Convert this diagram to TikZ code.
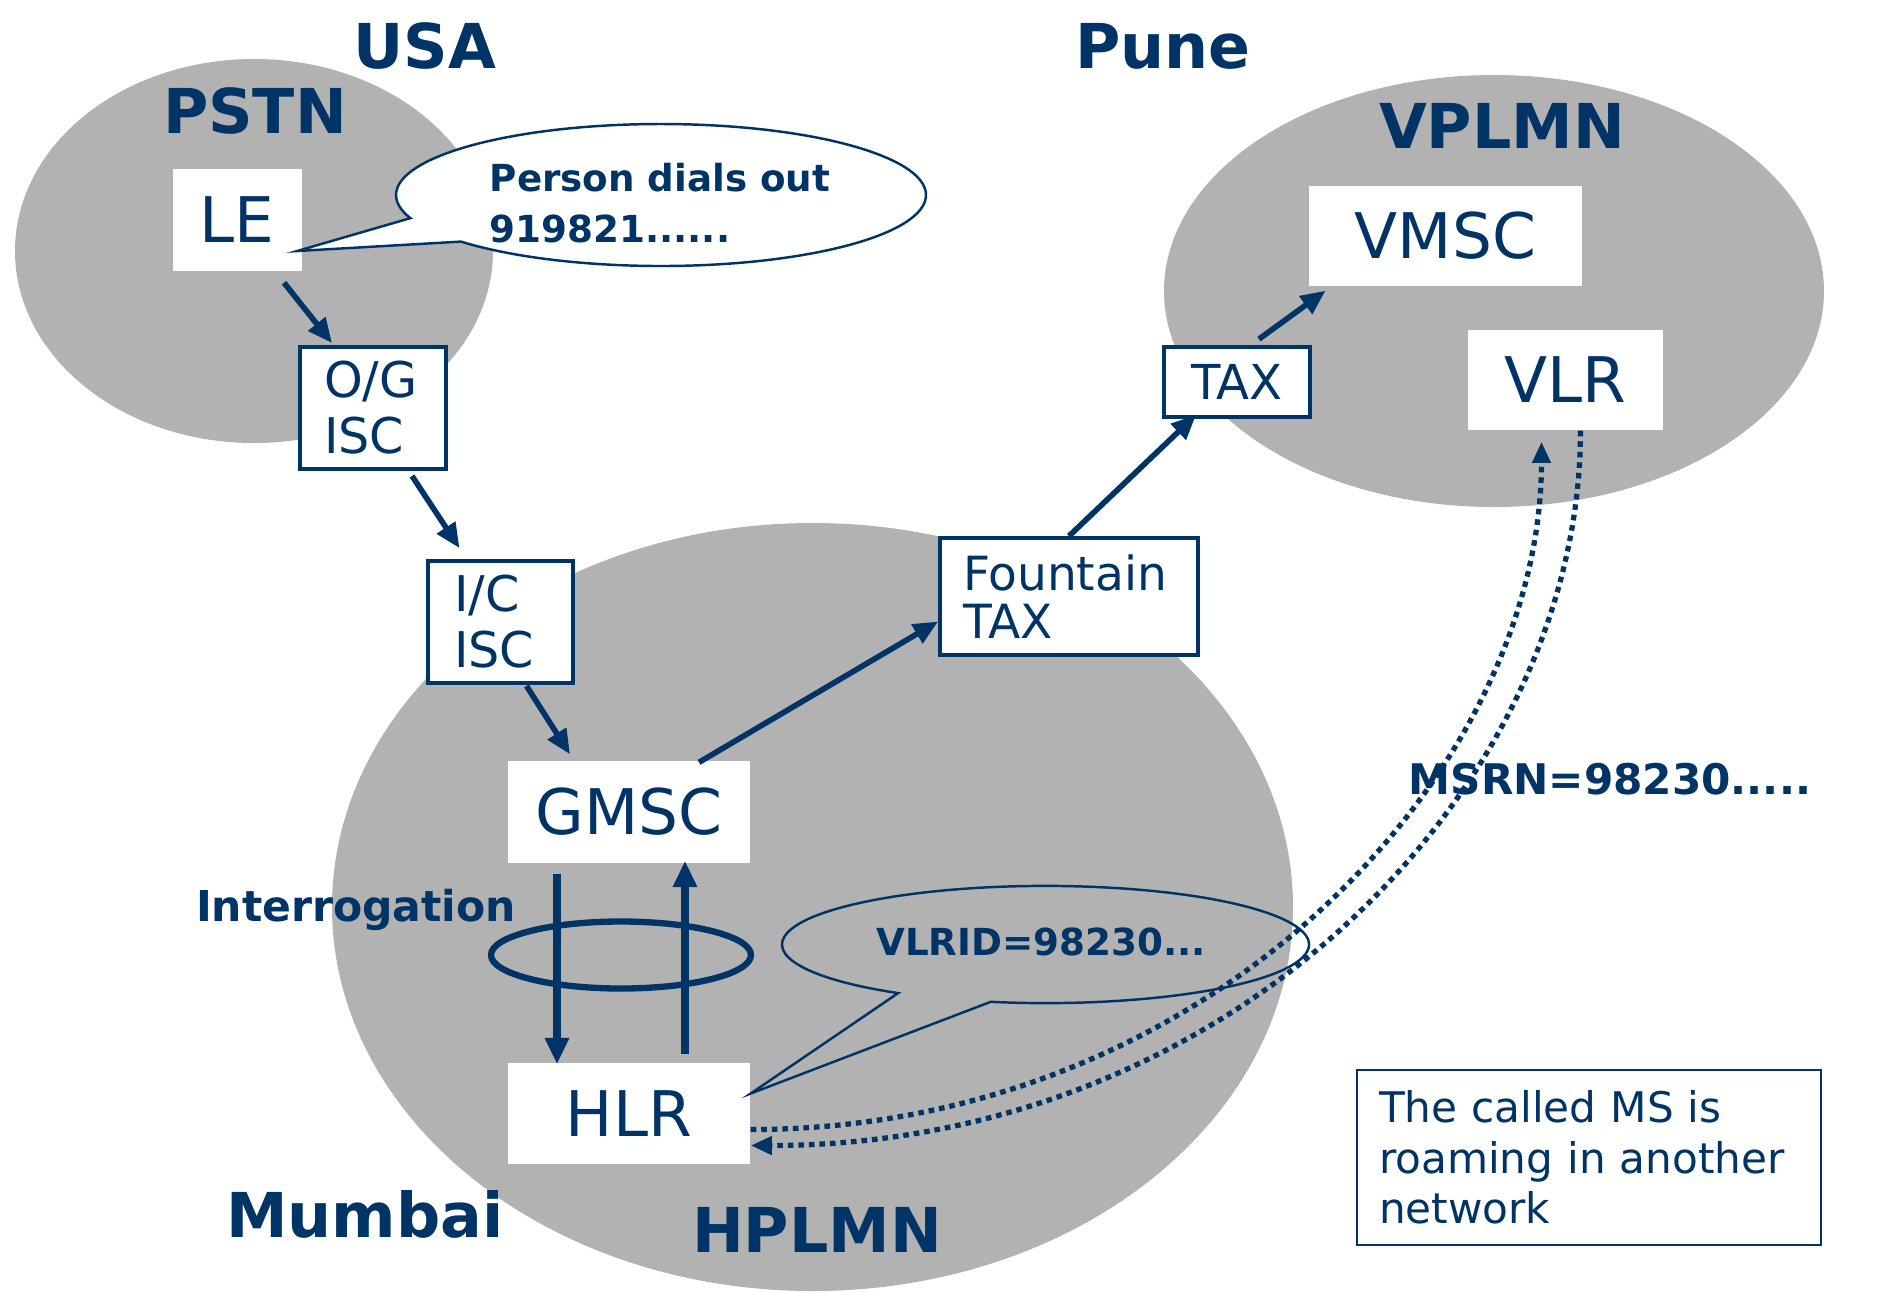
\documentclass[tikz,border=0pt]{standalone}
\usepackage{fontspec}
\setmainfont{DejaVu Sans}
\usetikzlibrary{arrows.meta,calc}
\definecolor{navy}{RGB}{0,51,102}
\definecolor{cloud}{RGB}{178,178,178}
\tikzset{
  net/.style={fill=cloud},
  region/.style={text=navy, inner sep=0pt, font=\bfseries\fontsize{17.6}{20}\selectfont},
  plainbox/.style={fill=white, text=navy, inner sep=0pt, font=\fontsize{17.9}{20}\selectfont},
  framebox/.style={draw=navy, line width=1.1pt, fill=white, text=navy, inner ysep=0pt},
  flow/.style={draw=navy, line width=1.6pt, -{Triangle[length=7pt,width=6pt]}},
  query/.style={draw=navy, line width=2pt, -{Triangle[length=7.5pt,width=6.5pt]}},
  msgpath/.style={draw=navy, line width=1.5pt, dash pattern=on 1.6pt off 1.4pt,
                  -{Triangle[length=6pt,width=5pt]}},
  callout/.style={draw=navy, line width=0.7pt},
  tag/.style={text=navy, inner sep=0pt, font=\bfseries\fontsize{10.6}{13}\selectfont},
}
\begin{document}
\begin{tikzpicture}
\useasboundingbox (0,0) rectangle (18.95,-12.92);
\fill[white] (0,0) rectangle (18.95,-12.92);

% networks
\fill[net] (2.54,-2.51) ellipse[x radius=2.39cm, y radius=1.92cm];
\fill[net] (14.94,-2.91) ellipse[x radius=3.30cm, y radius=2.16cm];
\fill[net] (8.125,-9.07) ellipse[x radius=4.805cm, y radius=3.84cm];

% switching elements
\node[plainbox, minimum width=1.29cm, minimum height=1.02cm] (le) at (2.37,-2.20) {LE};
\node[framebox, text width=0.98cm, inner xsep=0.24cm, minimum height=1.22cm, align=left,
      font=\fontsize{14}{15.9}\selectfont] (og) at (3.73,-4.08) {O/G\\ISC};
\node[framebox, text width=0.93cm, inner xsep=0.26cm, minimum height=1.22cm, align=left,
      font=\fontsize{14}{15.9}\selectfont] (ic) at (5.005,-6.22) {I/C\\ISC};
\node[plainbox, minimum width=2.42cm, minimum height=1.02cm] (gmsc) at (6.29,-8.12) {GMSC};
\node[plainbox, minimum width=2.42cm, minimum height=1.01cm] (hlr) at (6.29,-11.135) {HLR};
\node[framebox, text width=2.12cm, inner xsep=0.23cm, minimum height=1.17cm, align=left,
      font=\fontsize{13.4}{13.5}\selectfont] (fountain) at (10.69,-5.965) {Fountain\\TAX};
\node[framebox, inner xsep=0pt, minimum width=1.46cm, minimum height=0.70cm,
      font=\fontsize{13.7}{15}\selectfont] (tax) at (12.37,-3.82) {TAX};
\node[plainbox, minimum width=2.73cm, minimum height=1.00cm] (vmsc) at (14.455,-2.36) {VMSC};
\node[plainbox, minimum width=1.95cm, minimum height=1.00cm] (vlr) at (15.655,-3.80) {VLR};

% explanatory note
\node[draw=navy, line width=0.8pt, fill=white, text=navy, text width=4.20cm, inner xsep=0.22cm,
      inner ysep=0pt, minimum height=1.75cm, align=left, font=\fontsize{12}{14.4}\selectfont]
      (note) at (15.89,-11.575) {The called MS is\\roaming in another\\network};

% callout from the local exchange
\coordinate (tipA) at ($(le.east)+(-0.05,-0.31)$);
\draw[callout, fill=white] (6.61,-1.95) ++(221:2.65cm and 0.71cm)
  arc[start angle=221, end angle=559, x radius=2.65cm, y radius=0.71cm] -- (tipA) -- cycle;
\node[tag, anchor=base west] (dial1) at (4.89,-1.91) {Person dials out};
\node[tag, anchor=base west] (dial2) at (4.89,-2.42) {919821......};

% callout from the HLR
\coordinate (tipB) at ($(hlr.east)+(0,0.20)$);
\draw[callout] (10.455,-9.445) ++(258:2.635cm and 0.586cm)
  arc[start angle=258, end angle=596, x radius=2.635cm, y radius=0.586cm] -- (tipB) -- cycle;
\node[tag, anchor=base] (vlrid) at (10.41,-9.55) {VLRID=98230...};

% interrogation loop
\draw[navy, line width=1.8pt] (6.21,-9.55) ellipse[x radius=1.30cm, y radius=0.335cm];

% call routing
\draw[flow] ($(le.south)+(0.47,-0.11)$) -- ($(og.north)+(-0.41,0.02)$);
\draw[flow] ($(og.south)+(0.39,-0.05)$) -- ($(ic.north)+(-0.41,0.11)$);
\draw[flow] ($(ic.south)+(0.26,-0.01)$) -- ($(gmsc.north)+(-0.59,0.06)$);
\draw[flow] ($(gmsc.north)+(0.70,-0.02)$) -- ($(fountain.west)+(0,-0.25)$);
\draw[flow] (fountain.north) -- ($(tax.south)+(-0.41,0.04)$);
\draw[flow] ($(tax.north)+(0.22,0.06)$) -- ($(vmsc.south)+(-1.20,-0.04)$);
\draw[query] ($(gmsc.south)+(-0.72,-0.10)$) -- ($(hlr.north)+(-0.72,-0.02)$);
\draw[query] ($(hlr.north)+(0.56,0.08)$) -- ($(gmsc.south)+(0.56,0.03)$);

% signalling between HLR and VLR
\draw[msgpath] ($(hlr.east)+(0,-0.16)$) .. controls +(4.58,0) and +(0,-3.32) .. ($(vlr.south)+(-0.24,-0.11)$);
\draw[msgpath] ($(vlr.south)+(0.15,0)$) .. controls +(0,-3.56) and +(4.83,0) .. ($(hlr.east)+(0,-0.32)$);

% labels
\node[tag, anchor=base west, font=\bfseries\fontsize{12}{14}\selectfont] (msrn) at (14.08,-7.94) {MSRN=98230.....};
\node[tag, anchor=base, font=\bfseries\fontsize{12.1}{14}\selectfont] (interr) at (3.56,-9.21) {Interrogation};
\node[region] (usa) at (4.25,-0.46) {USA};
\node[region] (pstn) at (2.55,-1.11) {PSTN};
\node[region] (pune) at (11.63,-0.46) {Pune};
\node[region] (vplmn) at (15.02,-1.26) {VPLMN};
\node[region] (mumbai) at (3.65,-12.145) {Mumbai};
\node[region] (hplmn) at (8.17,-12.30) {HPLMN};
\end{tikzpicture}
\end{document}
